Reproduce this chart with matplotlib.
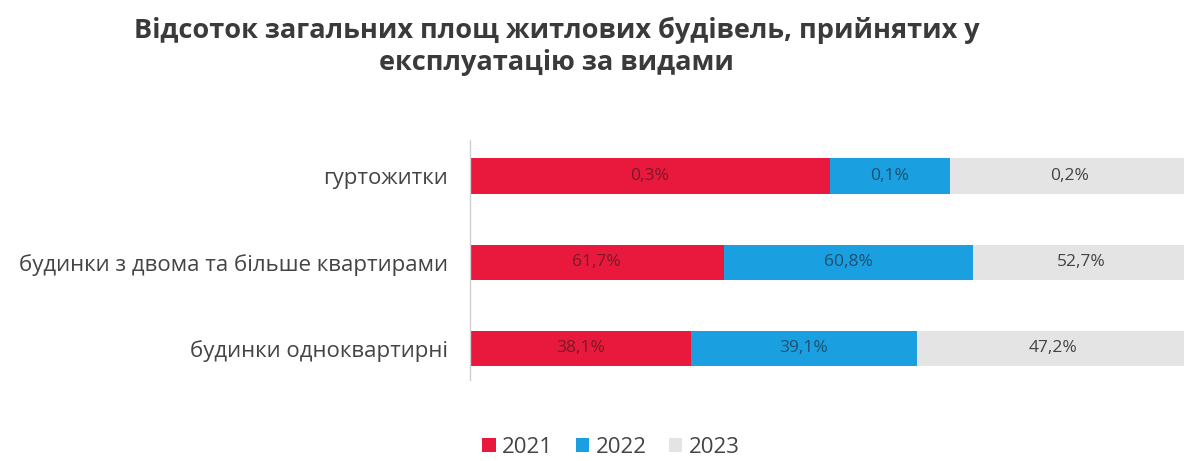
import matplotlib
matplotlib.use("Agg")
import matplotlib.pyplot as plt
from matplotlib.patches import Patch

# ---- data (as printed on the chart) ----
categories = ["будинки одноквартирні",
              "будинки з двома та більше квартирами",
              "гуртожитки"]
years = ["2021", "2022", "2023"]
share_2021 = [38.1, 61.7, 0.3]
share_2022 = [39.1, 60.8, 0.1]
share_2023 = [47.2, 52.7, 0.2]

COLORS = ["#e8193c", "#1aa0e0", "#e4e4e4"]
LABEL_COLORS = ["#7a1a28", "#1f4f70", "#444444"]
INK = "#444444"

plt.rcParams["font.family"] = ["Open Sans", "DejaVu Sans"]

fig = plt.figure(figsize=(11.84, 4.61), dpi=100)
# the bars run a little past the right edge of the picture, like the source
ax = fig.add_axes([470 / 1184, 81 / 461, 720 / 1184, 240 / 461])

series = [share_2021, share_2022, share_2023]
ypos = list(range(len(categories)))
left = [0.0] * len(categories)
totals = [a + b + c for a, b, c in zip(*series)]
for vals, col, tcol in zip(series, COLORS, LABEL_COLORS):
    widths = [v / t for v, t in zip(vals, totals)]
    ax.barh(ypos, widths, left=left, height=0.41, color=col, edgecolor="none")
    for y, l, w, v in zip(ypos, left, widths, vals):
        ax.text(l + w / 2, y, f"{v:.1f}%".replace(".", ","),
                ha="center", va="center", fontsize=12.5, color=tcol)
    left = [l + w for l, w in zip(left, widths)]

ax.set_xlim(0, 1)
ax.set_ylim(-0.37, 2.42)
ax.set_yticks(ypos)
ax.set_yticklabels(categories, fontsize=16, color=INK)
ax.tick_params(axis="y", length=0, pad=16)
ax.set_xticks([])
for s in ["top", "right", "bottom"]:
    ax.spines[s].set_visible(False)
ax.spines["left"].set_color("#d0d0d0")
ax.spines["left"].set_linewidth(1.0)

fig.text(0.47, 0.9, "Відсоток загальних площ житлових будівель, прийнятих у\n"
         "експлуатацію за видами", ha="center", va="center", fontsize=19.5,
         fontweight="bold", color="#3a3a3a", linespacing=1.25)

handles = [Patch(facecolor=c, edgecolor="none") for c in COLORS]
fig.legend(handles, years, loc="center", bbox_to_anchor=(0.516, 0.03),
           ncol=3, frameon=False, fontsize=16, handlelength=0.6,
           handleheight=0.6, handletextpad=0.3, columnspacing=1.0,
           labelcolor=INK)

fig.savefig("out.png", dpi=100, facecolor="white")
